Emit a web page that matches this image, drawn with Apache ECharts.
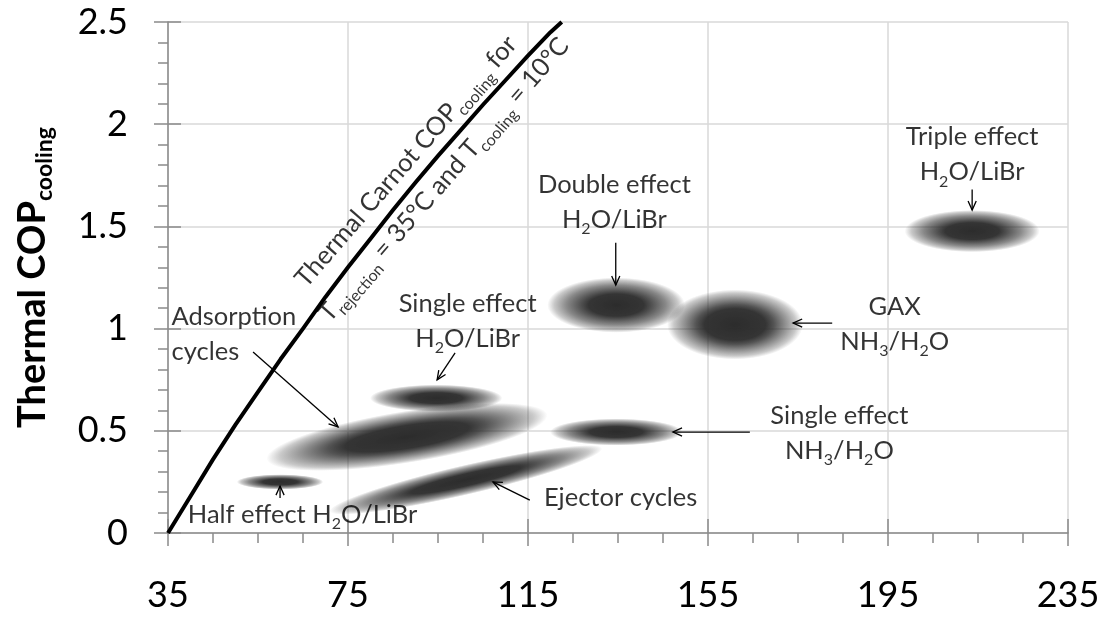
<!DOCTYPE html>
<html>
<head>
<meta charset="utf-8">
<script src="https://cdn.jsdelivr.net/npm/echarts@6/dist/echarts.min.js"></script>
<style>
  html, body { margin: 0; padding: 0; background: #fff; }
  #chart { width: 1103px; height: 619px; }
</style>
</head>
<body>
<div id="chart"></div>
<script>
// Axis ticks (generator temperature in °C, thermal COP)
const xTicks = [35, 75, 115, 155, 195, 235];
const yTicks = [0, 0.5, 1, 1.5, 2, 2.5];

// Carnot limit curve, T_rejection = 35 °C, T_cooling = 10 °C
const carnotT   = [35, 40, 45, 50, 55, 60, 65, 70, 75, 80, 85, 90, 95, 100, 105, 110, 115, 120, 122.5];
const carnotCOP = [0, 0.18, 0.36, 0.53, 0.69, 0.85, 1.00, 1.155, 1.30, 1.44, 1.58, 1.715, 1.845, 1.97, 2.095, 2.215, 2.335, 2.45, 2.50];

// Operating regions of the cycle families: centre, half extents, tilt, core share
const regionNames = ['Single effect H2O/LiBr', 'Adsorption', 'Half effect', 'Ejector',
                     'Single effect NH3/H2O', 'Double effect', 'GAX', 'Triple effect'];
const regionT      = [94.6, 88.1, 59.9, 101.2, 134.6, 134.6, 161.0, 213.7];
const regionCOP    = [0.66, 0.47, 0.25, 0.26, 0.494, 1.115, 1.02, 1.477];
const regionHalfT  = [14.7, 31.6, 9.6, 31.1, 14.7, 15.3, 15.1, 15.0];
const regionHalfCOP= [0.066, 0.127, 0.037, 0.073, 0.066, 0.135, 0.171, 0.103];
const regionTilt   = [0, 9, 0, 13, 0, 0, 0, 0];
const regionCore   = [0.40, 0.44, 0.40, 0.40, 0.40, 0.40, 0.45, 0.40];

// Pointer arrows: tail -> head
const arrowFromT   = [213.7, 134.5, 182.6, 164.3, 98.8, 53.9, 59.9, 115.4];
const arrowFromCOP = [1.68, 1.42, 1.027, 0.494, 0.881, 0.886, 0.171, 0.161];
const arrowToT     = [213.7, 134.5, 173.9, 147.2, 94.8, 72.8, 59.9, 107.2];
const arrowToCOP   = [1.58, 1.213, 1.027, 0.494, 0.749, 0.519, 0.23, 0.25];

// Annotation texts and their anchor points
const noteTexts = [
  '{n|Triple effect}\n{n|H}{s|2}{n|O/LiBr}',
  '{n|Double effect}\n{n|H}{s|2}{n|O/LiBr}',
  '{n|GAX}\n{n|NH}{s|3}{n|/H}{s|2}{n|O}',
  '{n|Single effect}\n{n|NH}{s|3}{n|/H}{s|2}{n|O}',
  '{n|Single effect}\n{n|H}{s|2}{n|O/LiBr}',
  '{n|Adsorption}\n{n|cycles}',
  '{n|Half effect H}{s|2}{n|O/LiBr}',
  '{n|Ejector cycles}',
  '{n|Thermal Carnot COP}{s|cooling}{n| for}',
  '{n|T}{s|rejection}{n| = 35°C and T}{s|cooling}{n| = 10°C}'
];
const noteT   = [213.8, 134.3, 196.6, 184.3, 101.7, 35.9, 65.0, 135.7, 88.0, 96.4];
const noteCOP = [1.849, 1.617, 1.020, 0.487, 1.035, 0.971, 0.088, 0.171, 1.815, 1.727];
const noteAlign  = ['center', 'center', 'center', 'center', 'center', 'left', 'center', 'center', 'center', 'center'];
const noteRotate = [0, 0, 0, 0, 0, 0, 0, 0, 49, 49];

const FONT = 'Lato';
const AXIS_COLOR = '#8a8a8a';
const GRID_COLOR = '#d9d9d9';

const richText = {
  n: { fontFamily: FONT, fontSize: 25.5, lineHeight: 35, color: '#000' },
  s: { fontFamily: FONT, fontSize: 16, lineHeight: 20, color: '#000', verticalAlign: 'bottom' }
};

const chart = echarts.init(document.getElementById('chart'), null, { renderer: 'canvas' });

const gridBox = { left: 168, right: 35, top: 22, bottom: 86 };

function blobFill(core) {
  return {
    type: 'radial', x: 0.5, y: 0.5, r: 0.5,
    colorStops: [
      { offset: 0, color: 'rgba(40,40,40,0.98)' },
      { offset: core, color: 'rgba(46,46,46,0.97)' },
      { offset: core + 0.12, color: 'rgba(40,40,40,0.80)' },
      { offset: 0.72, color: 'rgba(40,40,40,0.55)' },
      { offset: 0.9, color: 'rgba(40,40,40,0.25)' },
      { offset: 1, color: 'rgba(40,40,40,0)' }
    ]
  };
}

const regionData = regionNames.map((n, i) => [regionT[i], regionCOP[i], regionHalfT[i], regionHalfCOP[i], regionTilt[i], regionCore[i]]);
const arrowData = arrowFromT.map((t, i) => [t, arrowFromCOP[i], arrowToT[i], arrowToCOP[i]]);
const noteData = noteTexts.map((txt, i) => ({
  value: [noteT[i], noteCOP[i]],
  label: { formatter: txt, align: noteAlign[i], rotate: noteRotate[i] }
}));

const tickBase = (inside, len) => ({ show: true, inside: inside, length: len, lineStyle: { color: AXIS_COLOR, width: 1.5 } });

const option = {
  animation: false,
  grid: [
    Object.assign({}, gridBox),
    Object.assign({}, gridBox)
  ],
  xAxis: [
    {
      type: 'value', gridIndex: 0,
      min: xTicks[0], max: xTicks[xTicks.length - 1], interval: xTicks[1] - xTicks[0],
      axisLine: { show: true, onZero: false, lineStyle: { color: AXIS_COLOR, width: 1.5 } },
      axisTick: tickBase(false, 13),
      minorTick: { show: true, splitNumber: 4, length: 10, lineStyle: { color: AXIS_COLOR, width: 1.5 } },
      axisLabel: { fontFamily: FONT, fontSize: 36, color: '#000', margin: 44 },
      splitLine: { show: true, lineStyle: { color: GRID_COLOR, width: 1.5 } }
    },
    {
      type: 'value', gridIndex: 1,
      min: xTicks[0], max: xTicks[xTicks.length - 1], interval: xTicks[1] - xTicks[0],
      axisLine: { show: false, onZero: false },
      axisTick: tickBase(true, 14),
      axisLabel: { show: false },
      splitLine: { show: false }
    }
  ],
  yAxis: [
    {
      type: 'value', gridIndex: 0,
      min: yTicks[0], max: yTicks[yTicks.length - 1], interval: yTicks[1] - yTicks[0],
      axisLine: { show: true, onZero: false, lineStyle: { color: AXIS_COLOR, width: 1.5 } },
      axisTick: tickBase(false, 14),
      minorTick: { show: true, splitNumber: 5, length: 10, lineStyle: { color: AXIS_COLOR, width: 1.5 } },
      axisLabel: { fontFamily: FONT, fontSize: 36, color: '#000', margin: 40 },
      splitLine: { show: true, lineStyle: { color: GRID_COLOR, width: 1.5 } },
      name: '{t|Thermal COP}{ts|cooling}',
      nameLocation: 'middle',
      nameGap: 112,
      nameTextStyle: {
        rich: {
          t: { fontFamily: FONT, fontSize: 38, fontWeight: 'bold', color: '#000', lineHeight: 46 },
          ts: { fontFamily: FONT, fontSize: 23, fontWeight: 'bold', color: '#000', lineHeight: 30, verticalAlign: 'bottom' }
        }
      }
    },
    {
      type: 'value', gridIndex: 1,
      min: yTicks[0], max: yTicks[yTicks.length - 1], interval: yTicks[1] - yTicks[0],
      axisLine: { show: false, onZero: false },
      axisTick: tickBase(true, 13),
      axisLabel: { show: false },
      splitLine: { show: false }
    }
  ],
  series: [
    {
      name: 'Operating regions',
      type: 'custom',
      xAxisIndex: 0, yAxisIndex: 0,
      z: 2,
      silent: true,
      clip: false,
      data: regionData,
      renderItem: function (params, api) {
        const c = api.coord([api.value(0), api.value(1)]);
        const s = api.size([api.value(2), api.value(3)]);
        return {
          type: 'circle',
          x: c[0], y: c[1],
          rotation: api.value(4) * Math.PI / 180,
          scaleX: s[0], scaleY: s[1],
          shape: { cx: 0, cy: 0, r: 1 },
          style: { fill: blobFill(api.value(5)) }
        };
      }
    },
    {
      name: 'Carnot',
      type: 'line',
      xAxisIndex: 0, yAxisIndex: 0,
      z: 3,
      silent: true,
      showSymbol: false,
      smooth: false,
      lineStyle: { color: '#000', width: 4, join: 'round' },
      data: carnotT.map((t, i) => [t, carnotCOP[i]])
    },
    {
      name: 'Arrows',
      type: 'custom',
      xAxisIndex: 0, yAxisIndex: 0,
      z: 4,
      silent: true,
      clip: false,
      data: arrowData,
      renderItem: function (params, api) {
        const p1 = api.coord([api.value(0), api.value(1)]);
        const p2 = api.coord([api.value(2), api.value(3)]);
        const a = Math.atan2(p2[1] - p1[1], p2[0] - p1[0]);
        const hl = 10, spread = 0.42;
        const h1 = [p2[0] - hl * Math.cos(a - spread), p2[1] - hl * Math.sin(a - spread)];
        const h2 = [p2[0] - hl * Math.cos(a + spread), p2[1] - hl * Math.sin(a + spread)];
        const st = { stroke: '#000', lineWidth: 1.3, fill: null };
        return {
          type: 'group',
          children: [
            { type: 'polyline', shape: { points: [p1, p2] }, style: st },
            { type: 'polyline', shape: { points: [h1, p2, h2] }, style: st }
          ]
        };
      }
    },
    {
      name: 'Notes',
      type: 'scatter',
      xAxisIndex: 0, yAxisIndex: 0,
      z: 5,
      silent: true,
      symbolSize: 1,
      itemStyle: { color: 'rgba(0,0,0,0)' },
      label: {
        show: true,
        position: [0, 0],
        verticalAlign: 'middle',
        rich: richText
      },
      data: noteData
    }
  ]
};

chart.setOption(option);
</script>
</body>
</html>
